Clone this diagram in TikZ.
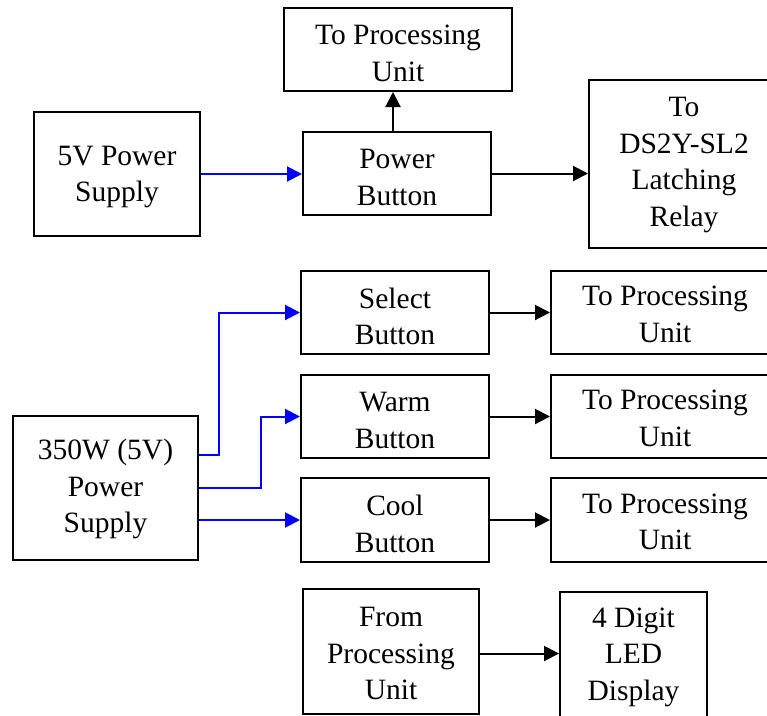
\documentclass[tikz,border=0pt]{standalone}
\usepackage{fontspec}
\setmainfont{Liberation Serif}
\usetikzlibrary{arrows.meta}
\begin{document}
\begin{tikzpicture}[x=1pt,y=-1pt,
  box/.style={draw=black, line width=2pt, inner sep=0pt},
  txt/.style={align=center, inner sep=0pt, font=\fontsize{29.5}{36.5}\selectfont},
  blk/.style={draw=black, line width=2pt, -{Triangle[length=15pt,width=15pt]}},
  blu/.style={draw=blue, line width=2pt, -{Triangle[length=15pt,width=15pt]}}]
\useasboundingbox (0,0) rectangle (767,715);
\clip (0,0) rectangle (767,715);
\node[box, minimum width=228pt, minimum height=83pt, label={[txt,yshift=-4pt]center:{To Processing\\Unit}}] (tpu0) at (398,49.5) {};
\node[box, minimum width=166pt, minimum height=124pt, label={[txt,yshift=-3pt]center:{5V Power\\Supply}}] (ps5) at (117,174) {};
\node[box, minimum width=188pt, minimum height=83pt, label={[txt,yshift=-4pt]center:{Power\\Button}}] (pwr) at (397,173.5) {};
\node[box, minimum width=190pt, minimum height=168pt, label={[txt,yshift=-1pt]center:{To\\DS2Y-SL2\\Latching\\Relay}}] (relay) at (684,164) {};
\node[box, minimum width=188pt, minimum height=83pt, label={[txt,yshift=-4pt]center:{Select\\Button}}] (sel) at (395,312.5) {};
\node[box, minimum width=188pt, minimum height=83pt, label={[txt,yshift=-4pt]center:{Warm\\Button}}] (warm) at (395,416.5) {};
\node[box, minimum width=188pt, minimum height=84pt, label={[txt,yshift=-4pt]center:{Cool\\Button}}] (cool) at (395,520) {};
\node[box, minimum width=228pt, minimum height=83pt, label={[txt,yshift=-2pt]center:{To Processing\\Unit}}] (pu1) at (665,312.5) {};
\node[box, minimum width=228pt, minimum height=83pt, label={[txt,yshift=-2pt]center:{To Processing\\Unit}}] (pu2) at (665,416.5) {};
\node[box, minimum width=228pt, minimum height=84pt, label={[txt,yshift=-2pt]center:{To Processing\\Unit}}] (pu3) at (665,520) {};
\node[box, minimum width=185pt, minimum height=144pt, label={[txt,yshift=-1pt]center:{350W (5V)\\Power\\Supply}}] (ps350) at (105.5,488) {};
\node[box, minimum width=176pt, minimum height=125pt, label={[txt,yshift=-2pt]center:{From\\Processing\\Unit}}] (from) at (391,651.5) {};
\node[box, minimum width=147pt, minimum height=128pt, label={[txt,yshift=-1pt]center:{4 Digit\\LED\\Display}}] (led) at (633.5,656) {};
% connectors
\draw[blu] (ps5.east) -- (ps5.east -| pwr.west);
\draw[blk] ([xshift=-4pt]pwr.north) -- ([xshift=-4pt]pwr.north |- tpu0.south);
\draw[blk] (pwr.east) -- (pwr.east -| relay.west);
\draw[blu] ([yshift=33pt]ps350.east) -- ++(20,0) |- (sel.west);
\draw[blu] (ps350.east) -- ++(62,0) |- (warm.west);
\draw[blu] ([yshift=-32pt]ps350.east) -- (cool.west);
\draw[blk] (sel.east) -- (pu1.west);
\draw[blk] (warm.east) -- (pu2.west);
\draw[blk] (cool.east) -- (pu3.west);
\draw[blk] ([yshift=-2pt]from.east) -- ([yshift=-2pt]from.east -| led.west);
\end{tikzpicture}
\end{document}
